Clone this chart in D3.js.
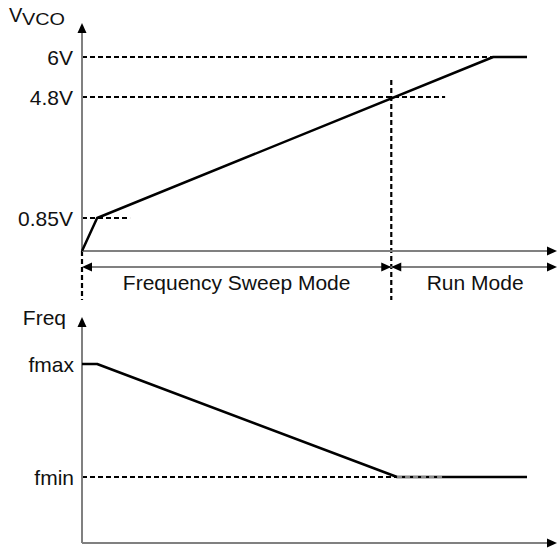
<!DOCTYPE html>
<html>
<head>
<meta charset="utf-8">
<script src="https://cdn.jsdelivr.net/npm/d3@7"></script>
<style>
  html, body { margin: 0; padding: 0; background: #fff; }
  svg { display: block; }
  text { font-family: "Liberation Sans", Arial, sans-serif; fill: #111; }
</style>
</head>
<body>
<svg id="chart" width="557" height="548"></svg>
<script>
// ---- data ----
const vcoTime    = [0, 3.4, 92.4, 100];
const vcoVolts   = [0, 0.85, 6, 6];
const vcoTicks   = [6, 4.8, 0.85];
const vcoTickLabels = ["6V", "4.8V", "0.85V"];
const vcoRefEnd  = [92.4, 81.6, 10.8];   // where each dashed reference line stops (time)

const freqTime   = [0, 3.4, 70.8, 100];
const freqLevel  = [1, 1, 0, 0];          // 1 = fmax, 0 = fmin
const freqTicks  = [1, 0];
const freqTickLabels = ["fmax", "fmin"];

const modeSwitch = 69.5;                  // time of switch to Run Mode
const modeNames  = ["Frequency Sweep Mode", "Run Mode"];

// ---- layout ----
const svg = d3.select("#chart");
const x0 = 82, xEnd = 557;
const x = d3.scaleLinear().domain([0, 100]).range([x0, 527]);

const yTop = d3.scaleLinear().domain([0, 0.85, 4.8, 6]).range([251, 218, 97, 57]);
const yBot = d3.scaleLinear().domain([0, 1]).range([477, 364]);
const topAxisTop = 23, botAxisTop = 317, botBase = 543;
const modeY = 267;
const FS = 21;

const axisCol = "#808080";
const black = "#000";
const dash = "5,3";

function arrow(tx, ty, dir, color) {
  const L = 10, W = 4.5;
  let pts;
  if (dir === "up") pts = [[tx, ty], [tx - W, ty + L], [tx + W, ty + L]];
  if (dir === "right") pts = [[tx, ty], [tx - L, ty - W], [tx - L, ty + W]];
  if (dir === "left") pts = [[tx, ty], [tx + L, ty - W], [tx + L, ty + W]];
  svg.append("path").attr("d", "M" + pts.map(p => p.join(",")).join("L") + "Z")
    .attr("fill", color || black);
}
function hline(xa, xb, y, col, w, da) {
  const l = svg.append("line").attr("x1", xa).attr("x2", xb).attr("y1", y).attr("y2", y)
    .attr("stroke", col).attr("stroke-width", w);
  if (da) l.attr("stroke-dasharray", da);
  return l;
}
function vline(xx, ya, yb, col, w, da) {
  const l = svg.append("line").attr("x1", xx).attr("x2", xx).attr("y1", ya).attr("y2", yb)
    .attr("stroke", col).attr("stroke-width", w);
  if (da) l.attr("stroke-dasharray", da);
  return l;
}

// ===== top chart =====
vcoTicks.forEach((v, i) => hline(x(0), x(vcoRefEnd[i]), yTop(v), black, 2.2, dash));
vline(x(0), yTop(0), 300, black, 2.2, dash);
vline(x(modeSwitch), 80, 300, black, 2.2, dash);

vline(x0, yTop(0), topAxisTop + 6, axisCol, 2);
arrow(x0, topAxisTop, "up");
hline(x0, xEnd - 6, yTop(0), axisCol, 2);
arrow(xEnd, yTop(0), "right");

vcoTicks.forEach((v, i) => {
  svg.append("text").attr("x", 73).attr("y", yTop(v) + 7.5)
    .attr("text-anchor", "end").attr("font-size", FS).text(vcoTickLabels[i]);
});
svg.append("text").attr("x", 9).attr("y", 22).attr("font-size", 20).text("V");
svg.append("text").attr("x", 22).attr("y", 24.5).attr("font-size", 16)
  .attr("textLength", 43).attr("lengthAdjust", "spacingAndGlyphs").text("VCO");

const lineTop = d3.line().x(d => x(d[0])).y(d => yTop(d[1]));
svg.append("path").datum(vcoTime.map((t, i) => [t, vcoVolts[i]]))
  .attr("d", lineTop).attr("fill", "none").attr("stroke", black)
  .attr("stroke-width", 2.5).attr("stroke-linejoin", "round");

hline(x0 + 4, xEnd - 6, modeY, axisCol, 2);
arrow(x0, modeY, "left");
arrow(x(modeSwitch), modeY, "right");
arrow(x(modeSwitch), modeY, "left");
arrow(xEnd, modeY, "right");
svg.append("text").attr("x", (x0 + x(modeSwitch)) / 2).attr("y", 289.5)
  .attr("text-anchor", "middle").attr("font-size", FS).text(modeNames[0]);
svg.append("text").attr("x", (x(modeSwitch) + xEnd) / 2 + 1).attr("y", 289.5)
  .attr("text-anchor", "middle").attr("font-size", FS).text(modeNames[1]);

// ===== bottom chart =====
const fMinEnd = freqTime[2];
hline(x(0), x(fMinEnd), yBot(0), black, 2.2, dash);

vline(x0, botBase, botAxisTop + 6, axisCol, 2);
arrow(x0, botAxisTop, "up");
hline(x0, xEnd - 6, botBase, axisCol, 2);
arrow(xEnd, botBase, "right");

freqTicks.forEach((f, i) => {
  svg.append("text").attr("x", 74).attr("y", yBot(f) + 7.5)
    .attr("text-anchor", "end").attr("font-size", FS).text(freqTickLabels[i]);
});
svg.append("text").attr("x", 66).attr("y", 325).attr("text-anchor", "end")
  .attr("font-size", FS).text("Freq");

const lineBot = d3.line().x(d => x(d[0])).y(d => yBot(d[1]));
svg.append("path").datum(freqTime.map((t, i) => [t, freqLevel[i]]))
  .attr("d", lineBot).attr("fill", "none").attr("stroke", black)
  .attr("stroke-width", 2.5).attr("stroke-linejoin", "round");
hline(x(fMinEnd), x(81), yBot(0), "#b5b5b5", 1.5, dash);
</script>
</body>
</html>
